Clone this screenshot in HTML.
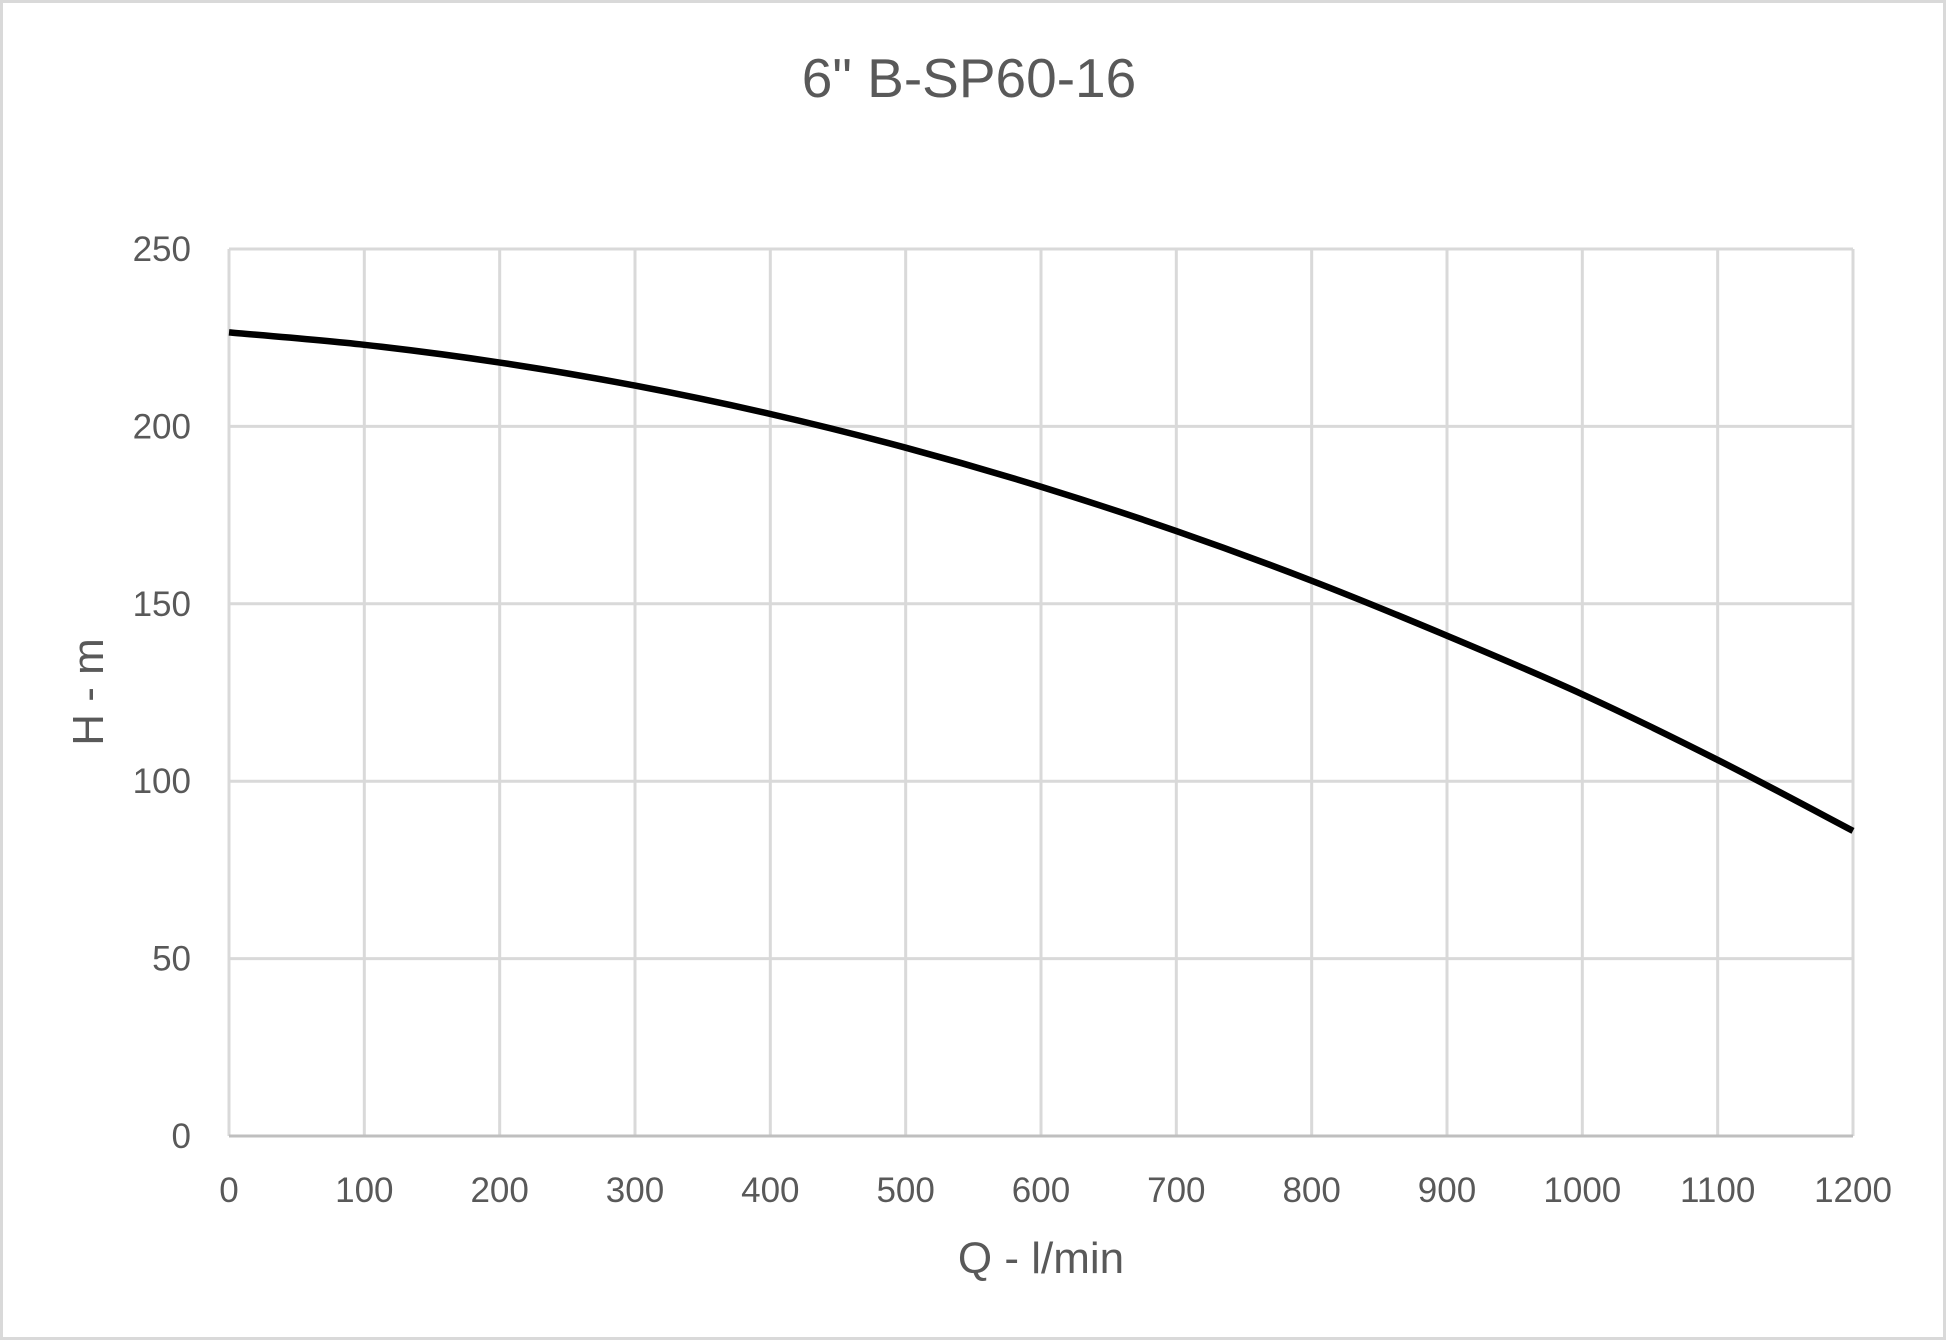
<!DOCTYPE html>
<html><head><meta charset="utf-8"><style>
body{margin:0;background:#fff}
svg{display:block;font-family:"Liberation Sans",sans-serif}
</style></head><body>
<svg id="chart" width="1947" height="1341">
<rect x="1.5" y="1.5" width="1943" height="1337" fill="#fff" stroke="#d9d9d9" stroke-width="3"/>
<text x="969" y="97" text-anchor="middle" font-size="55" fill="#595959">6" B-SP60-16</text>
<g id="grid"></g><g id="ticks"></g>
<path id="curve" fill="none" stroke="#000" stroke-width="6.5" stroke-linejoin="round"/>
<text x="1041" y="1273" text-anchor="middle" font-size="44" fill="#595959">Q - l/min</text>
<text transform="translate(103,692) rotate(-90)" text-anchor="middle" font-size="44" fill="#595959">H - m</text>
</svg>
<script>
const flows=[0,100,200,300,400,500,600,700,800,900,1000,1100,1200];
const heads=[226.5,223,218,211.5,203.5,194,183,170.5,156.5,141,124.5,106,86];
const xTicks=[0,100,200,300,400,500,600,700,800,900,1000,1100,1200];
const yTicks=[0,50,100,150,200,250];
const L=229,R=1853,T=249,B=1136;
const xs=v=>L+(v-0)/1200*(R-L);
const ys=v=>B-v/250*(B-T);
const ns="http://www.w3.org/2000/svg";
const grid=document.getElementById('grid'),ticks=document.getElementById('ticks');
function mk(tag,attrs,parent){const e=document.createElementNS(ns,tag);for(const k in attrs)e.setAttribute(k,attrs[k]);parent.appendChild(e);return e;}
xTicks.forEach(v=>{
 const l=mk('line',{x1:xs(v),x2:xs(v),y1:T,y2:B,stroke:'#d9d9d9','stroke-width':3},grid);
 
 
 const t=mk('text',{x:xs(v),y:1202,'text-anchor':'middle','font-size':35,fill:'#595959'},ticks);
 t.textContent=v;
 
 
});
yTicks.forEach(v=>{
 const l=mk('line',{x1:L,x2:R,y1:ys(v),y2:ys(v),stroke:v===0?'#bfbfbf':'#d9d9d9','stroke-width':3},grid);
 
 
 const t=mk('text',{x:191,y:ys(v)+12,'text-anchor':'end','font-size':35,fill:'#595959'},ticks);
 t.textContent=v;
 
 
});
const pts=flows.map((f,i)=>[xs(f),ys(heads[i])]);
let d='M'+pts[0][0]+','+pts[0][1];
for(let i=0;i<pts.length-1;i++){
 const p0=pts[i-1]||pts[i],p1=pts[i],p2=pts[i+1],p3=pts[i+2]||p2;
 d+=` C${p1[0]+(p2[0]-p0[0])/6},${p1[1]+(p2[1]-p0[1])/6} ${p2[0]-(p3[0]-p1[0])/6},${p2[1]-(p3[1]-p1[1])/6} ${p2[0]},${p2[1]}`;
}
document.getElementById('curve').setAttribute('d',d);
</script>
</body></html>
